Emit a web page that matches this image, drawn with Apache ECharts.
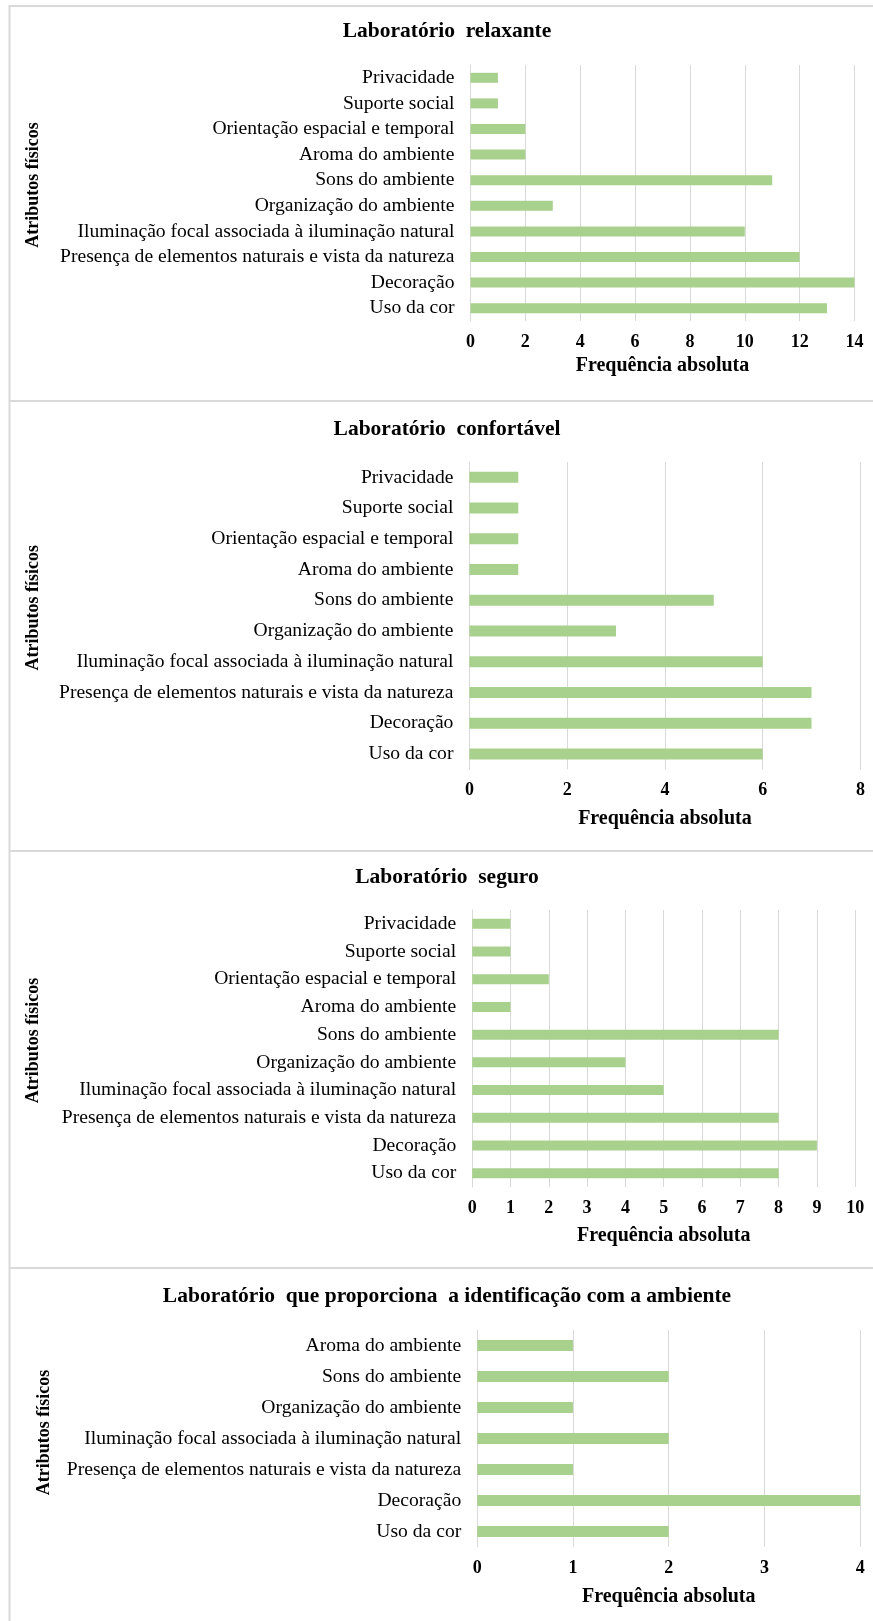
<!DOCTYPE html>
<html>
<head>
<meta charset="utf-8">
<script src="https://cdn.jsdelivr.net/npm/echarts@6/dist/echarts.min.js"></script>
<style>
  html, body { margin: 0; padding: 0; background: #ffffff; }
  #chart { width: 873px; height: 1621px; }
</style>
</head>
<body>
<div id="chart"></div>
<script>
// Panel titles
const titles = [
  'Laboratório  relaxante',
  'Laboratório  confortável',
  'Laboratório  seguro',
  'Laboratório  que proporciona  a identificação com a ambiente'
];

// Physical attributes, listed top to bottom
const attributesFull = [
  'Privacidade',
  'Suporte social',
  'Orientação espacial e temporal',
  'Aroma do ambiente',
  'Sons do ambiente',
  'Organização do ambiente',
  'Iluminação focal associada à iluminação natural',
  'Presença de elementos naturais e vista da natureza',
  'Decoração',
  'Uso da cor'
];
const attributesShort = [
  'Aroma do ambiente',
  'Sons do ambiente',
  'Organização do ambiente',
  'Iluminação focal associada à iluminação natural',
  'Presença de elementos naturais e vista da natureza',
  'Decoração',
  'Uso da cor'
];

// Absolute frequencies (same order as the attribute lists)
const relaxante    = [1, 1, 2, 2, 11, 3, 10, 12, 14, 13];
const confortavel  = [1, 1, 1, 1, 5, 3, 6, 7, 7, 6];
const seguro       = [1, 1, 2, 1, 8, 4, 5, 8, 9, 8];
const identificacao = [1, 2, 1, 2, 1, 4, 2];

// Axis ranges
const xMax      = [14, 8, 10, 4];
const xInterval = [2, 2, 1, 1];

const xName = 'Frequência absoluta';
const yName = 'Atributos físicos';

const FONT = '"Liberation Serif", "Times New Roman", serif';
const BAR = '#A9D18E';
const GRIDLINE = '#D9D9D9';

// Panel layout
const panels = [
  { cats: attributesFull,  vals: relaxante,     grid: { left: 470.5, top: 65,   width: 384, height: 256 },   titleTop: 20,   nameGap: 35, barW: 10 },
  { cats: attributesFull,  vals: confortavel,   grid: { left: 469.4, top: 462,  width: 391, height: 307.4 }, titleTop: 418,  nameGap: 39, barW: 11 },
  { cats: attributesFull,  vals: seguro,        grid: { left: 472.2, top: 910,  width: 383, height: 277 },   titleTop: 866,  nameGap: 39, barW: 10 },
  { cats: attributesShort, vals: identificacao, grid: { left: 477.2, top: 1330, width: 383, height: 217 },   titleTop: 1285, nameGap: 40, barW: 11 }
];

const option = {
  backgroundColor: '#ffffff',
  animation: false,
  title: panels.map((p, i) => ({
    text: titles[i],
    left: 447,
    top: p.titleTop,
    textAlign: 'center',
    padding: 0,
    textStyle: { fontFamily: FONT, fontWeight: 'bold', fontSize: 21.5, color: '#000' }
  })),
  grid: panels.map(p => Object.assign({ containLabel: false }, p.grid)),
  xAxis: panels.map((p, i) => ({
    type: 'value',
    gridIndex: i,
    min: 0,
    max: xMax[i],
    interval: xInterval[i],
    name: xName,
    nameLocation: 'middle',
    nameGap: p.nameGap,
    nameTextStyle: { fontFamily: FONT, fontWeight: 'bold', fontSize: 20, color: '#000' },
    axisLine: { show: false },
    axisTick: { show: false },
    axisLabel: { fontFamily: FONT, fontWeight: 'bold', fontSize: 18, color: '#000', margin: 12 },
    splitLine: { show: true, lineStyle: { color: GRIDLINE, width: 1 } }
  })),
  yAxis: panels.map((p, i) => ({
    type: 'category',
    gridIndex: i,
    inverse: true,
    data: p.cats,
    axisLine: { show: true, lineStyle: { color: GRIDLINE, width: 1 } },
    axisTick: { show: false },
    axisLabel: { interval: 0, hideOverlap: false, fontFamily: FONT, fontSize: 19.6, color: '#000', margin: 16 },
    splitLine: { show: false }
  })),
  series: panels.map((p, i) => ({
    type: 'bar',
    xAxisIndex: i,
    yAxisIndex: i,
    data: p.vals,
    barWidth: p.barW,
    itemStyle: { color: BAR },
    silent: true
  })),
  graphic: [
    // panel frames
    { type: 'line', shape: { x1: 9.5, y1: 5, x2: 9.5, y2: 1621 }, style: { stroke: GRIDLINE, lineWidth: 2 } },
    { type: 'line', shape: { x1: 9, y1: 6, x2: 873, y2: 6 }, style: { stroke: GRIDLINE, lineWidth: 2 } },
    { type: 'line', shape: { x1: 9, y1: 401, x2: 873, y2: 401 }, style: { stroke: GRIDLINE, lineWidth: 2 } },
    { type: 'line', shape: { x1: 9, y1: 851, x2: 873, y2: 851 }, style: { stroke: GRIDLINE, lineWidth: 2 } },
    { type: 'line', shape: { x1: 9, y1: 1268, x2: 873, y2: 1268 }, style: { stroke: GRIDLINE, lineWidth: 2 } }
  ].concat(panels.map((p, i) => ({
    // rotated y-axis title
    type: 'text',
    x: i === 3 ? 44 : 33,
    y: p.grid.top + p.grid.height / 2 - (i === 3 ? 6 : 8),
    rotation: Math.PI / 2,
    style: {
      text: yName,
      fontFamily: FONT,
      fontWeight: 'bold',
      fontSize: 18,
      fill: '#000',
      align: 'center',
      verticalAlign: 'middle'
    }
  })))
};

const chart = echarts.init(document.getElementById('chart'), null, { renderer: 'canvas' });
chart.setOption(option);
</script>
</body>
</html>
